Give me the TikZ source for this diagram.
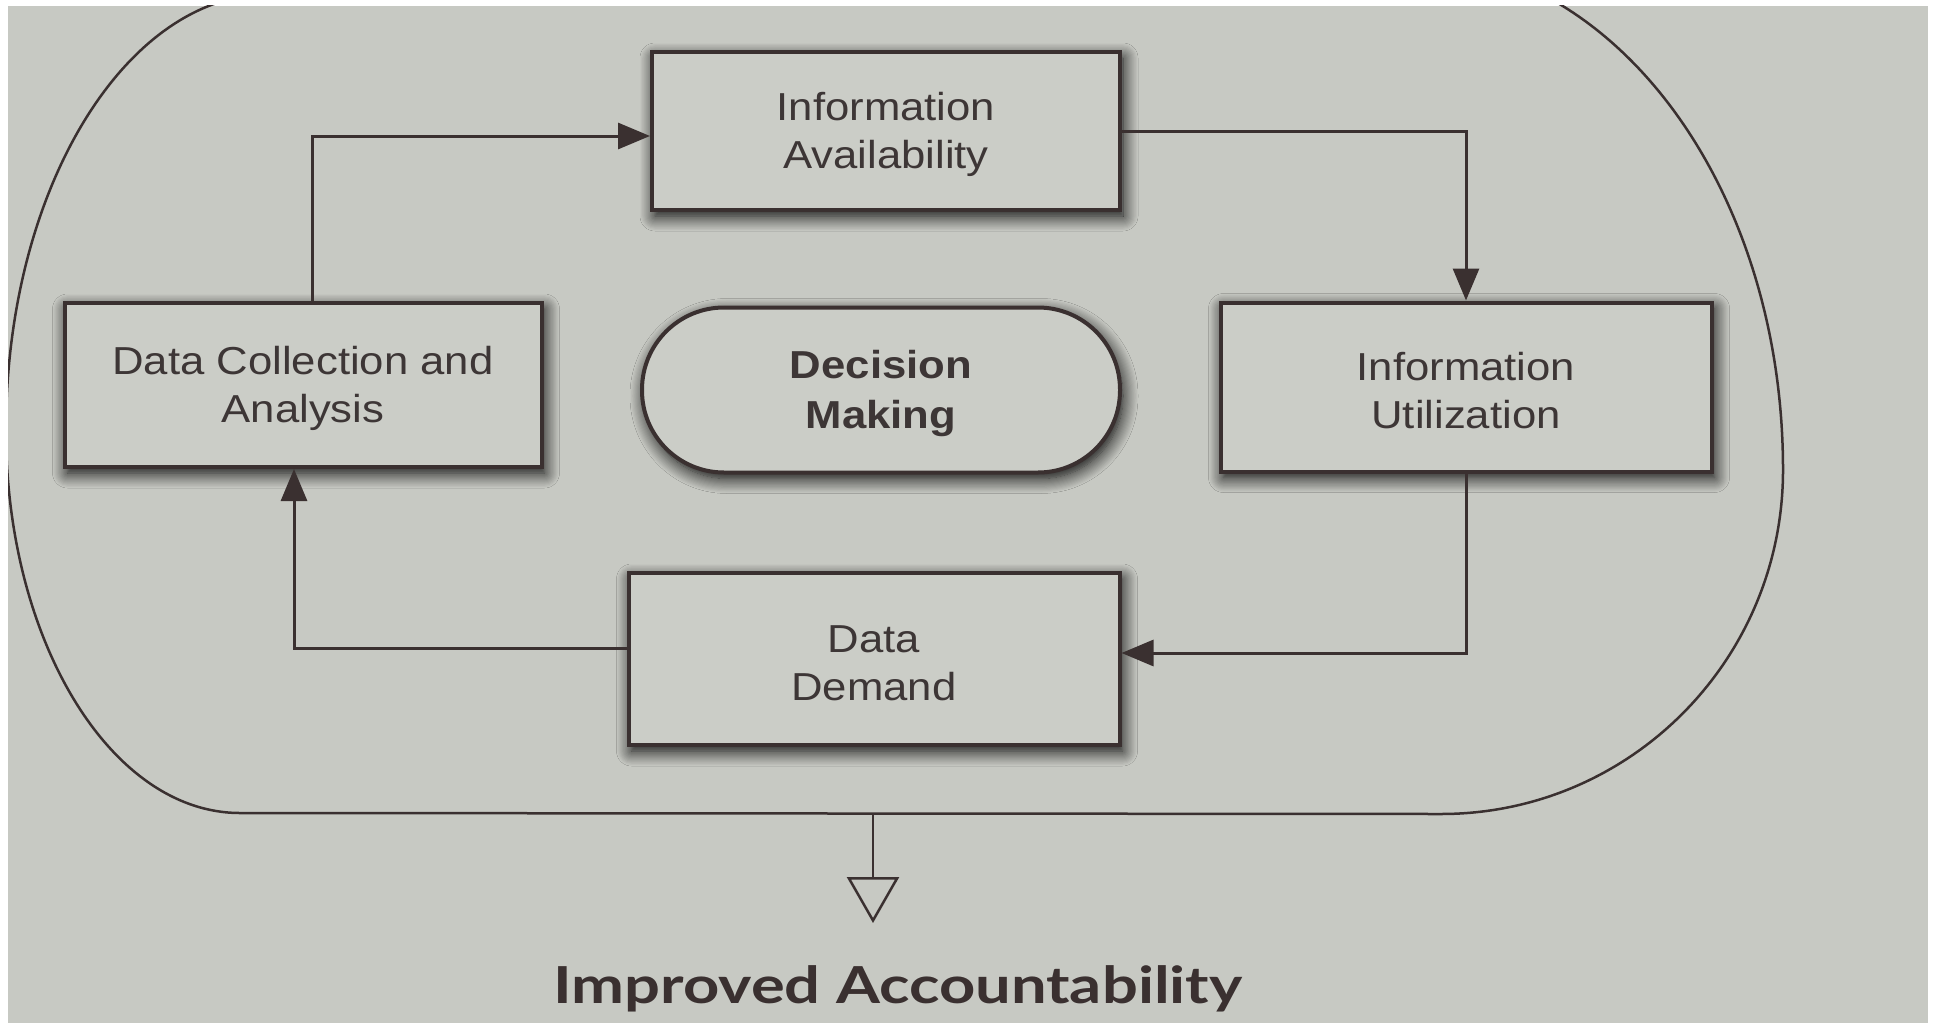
\documentclass[tikz,border=0pt]{standalone}
\usepackage{fontspec}
\setmainfont{Liberation Sans}
\newfontfamily\boxfont[FakeStretch=1.12]{Liberation Sans}
\newfontfamily\accfont[FakeStretch=1.24]{Lato}
\usetikzlibrary{arrows.meta,shadows.blur}
\definecolor{page}{HTML}{C7C9C3}
\definecolor{boxfill}{HTML}{CBCDC7}
\definecolor{ink}{HTML}{3A3030}
\definecolor{txt}{HTML}{3D3636}
\tikzset{
  stepbox/.style={draw=ink, line width=4pt, fill=boxfill, inner sep=0pt,
    align=center, text=txt, font=\boxfont\fontsize{39}{48}\selectfont,
    blur shadow={shadow xshift=3pt, shadow yshift=-6pt, shadow blur radius=15pt,
      shadow opacity=100, shadow blur steps=14}},
  conn/.style={draw=ink, line width=3pt, -{Triangle[length=32pt,width=26pt]}},
  frame/.style={draw=ink, line width=2.5pt},
}
\begin{document}
\begin{tikzpicture}[x=1pt,y=-1pt]
\useasboundingbox (0,0) rectangle (1937,1025);
\fill[white] (0,0) rectangle (1937,1025);
\fill[page] (8,6) rectangle (1928,1023);
% big frame
\begin{scope}
\clip (8,6) rectangle (1928,1023);
\draw[frame] (270,-6) .. controls (125,-6) and (6,190) .. (6,430)
  .. controls (6,641) and (111,813) .. (240,813)
  -- (1441,814)
  .. controls (1630,814) and (1783,660) .. (1783,470)
  .. controls (1783,188) and (1615,-40) .. (1405,-40)
  -- cycle;
\end{scope}
% nodes
\node[stepbox, minimum width=468pt, minimum height=158pt] (ia) at (886,131) {\rule{0pt}{36pt}Information\\Availability};
\node[stepbox, minimum width=477pt, minimum height=164pt] (dc) at (303,385) {\rule{0pt}{36pt}Data Collection and\\Analysis};
\node[stepbox, minimum width=478pt, minimum height=165pt, rounded corners=82pt, font=\boxfont\bfseries\fontsize{39}{50}\selectfont] (dm) at (881,390) {\rule{0pt}{36pt}Decision\\Making};
\node[stepbox, minimum width=491pt, minimum height=169pt] (iu) at (1466,387) {\rule{0pt}{36pt}Information\\Utilization};
\node[stepbox, minimum width=491pt, minimum height=172pt] (dd) at (874,659) {\rule{0pt}{36pt}Data\\Demand};
\node[text=ink, font=\accfont\bfseries\fontsize{51}{58}\selectfont, inner sep=0pt, anchor=base] (acc) at (898,1003) {Improved Accountability};
% connectors
\draw[conn] ([xshift=9pt]dc.north) |- ([yshift=-5pt]ia.west);
\draw[conn] (ia.east) -| (iu.north);
\draw[conn] (iu.south) |- ([yshift=6pt]dd.east);
\draw[conn] ([yshift=11pt]dd.west) -| ([xshift=-9pt]dc.south);
\coordinate (fb) at (873,814);
\coordinate (tip) at (873,923);
\draw[draw=ink, line width=2.5pt, -{Triangle[open,length=46pt,width=52pt,line width=2.5pt]}] (fb) -- (tip);
\end{tikzpicture}
\end{document}
